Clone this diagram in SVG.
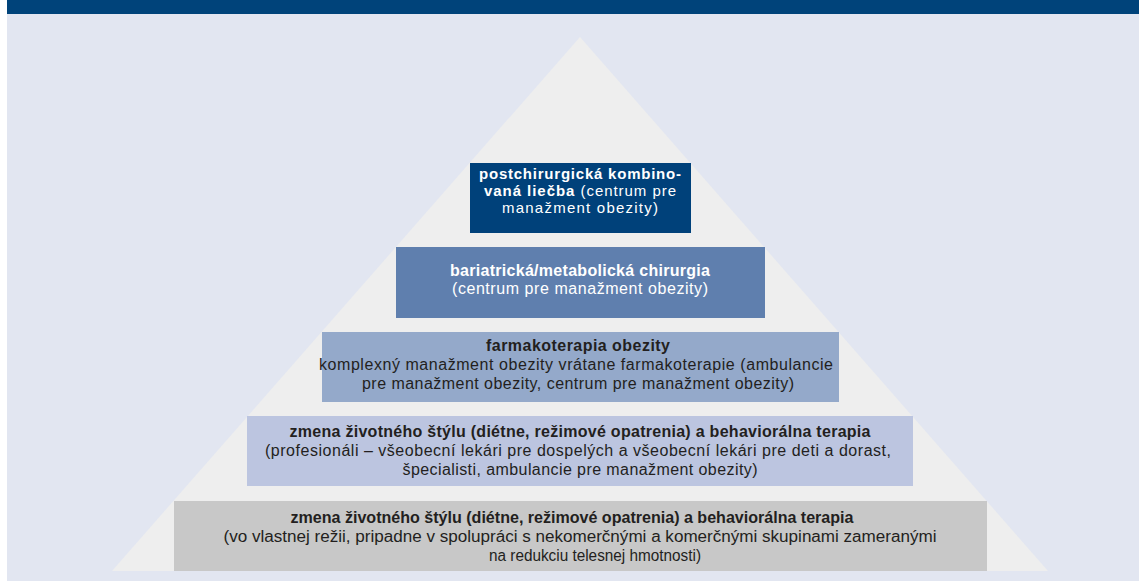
<svg xmlns="http://www.w3.org/2000/svg" width="1139" height="581" viewBox="0 0 1139 581">
  <style>
    .t { font-family: "Liberation Sans", Arial, sans-serif; font-size: 16px; text-anchor: middle; }
    .w { fill: #ffffff; }
    .d { fill: #231f20; }
    .b { font-weight: bold; }
    .s { font-size: 15px; }
    .c { font-size: 16px; }
  </style>
  <rect x="0" y="0" width="1139" height="581" fill="#ffffff"/>
  <rect x="7" y="0" width="1132" height="581" fill="#e2e6f1"/>
  <rect x="7" y="0" width="1132" height="14" fill="#00437a"/>
  <polygon points="580,37 112,571 1048,571" fill="#eeeeee"/>

  <g id="level5">
    <rect x="174" y="501" width="813" height="70" fill="#c8c8c8"/>
    <text class="t d b c" x="572" y="523" textLength="563" lengthAdjust="spacingAndGlyphs">zmena životného štýlu (diétne, režimové opatrenia) a behaviorálna terapia</text>
    <text class="t d c" x="580" y="542" textLength="713" lengthAdjust="spacingAndGlyphs">(vo vlastnej režii, pripadne v spolupráci s nekomerčnými a komerčnými skupinami  zameranými</text>
    <text class="t d c" x="595" y="561" textLength="212" lengthAdjust="spacingAndGlyphs">na redukciu telesnej hmotnosti)</text>
  </g>

  <g id="level4">
    <rect x="247" y="416" width="666" height="70" fill="#bcc5e0"/>
    <text class="t d b" x="580" y="437" textLength="581" lengthAdjust="spacing">zmena životného štýlu (diétne, režimové opatrenia) a behaviorálna terapia</text>
    <text class="t d" x="578" y="456" textLength="626" lengthAdjust="spacing">(profesionáli – všeobecní lekári pre dospelých a všeobecní lekári pre deti a dorast,</text>
    <text class="t d" x="580" y="475" textLength="355" lengthAdjust="spacing">špecialisti, ambulancie pre manažment obezity)</text>
  </g>

  <g id="level3">
    <rect x="322" y="332" width="517" height="70" fill="#94a9ca"/>
    <text class="t d b" x="578" y="351" textLength="184" lengthAdjust="spacing">farmakoterapia obezity</text>
    <text class="t d" x="576" y="370" textLength="514" lengthAdjust="spacing">komplexný manažment obezity vrátane farmakoterapie (ambulancie</text>
    <text class="t d" x="578" y="389" textLength="432" lengthAdjust="spacing">pre manažment obezity, centrum pre manažment obezity)</text>
  </g>

  <g id="level2">
    <rect x="396" y="247" width="369" height="71" fill="#5f7fae"/>
    <text class="t w b" x="580" y="276" textLength="260" lengthAdjust="spacing">bariatrická/metabolická chirurgia</text>
    <text class="t w" x="580" y="294" textLength="256" lengthAdjust="spacing">(centrum pre manažment obezity)</text>
  </g>

  <g id="level1">
    <rect x="470" y="163" width="221" height="70" fill="#00417a"/>
    <text class="t w b s" x="580" y="179" textLength="202" lengthAdjust="spacing">postchirurgická kombino-</text>
    <text class="t w s" x="580" y="196" textLength="192" lengthAdjust="spacing"><tspan class="b">vaná liečba</tspan> (centrum pre</text>
    <text class="t w s" x="580" y="213" textLength="156" lengthAdjust="spacing">manažment obezity)</text>
  </g>

  <g id="connectors"></g>
</svg>
